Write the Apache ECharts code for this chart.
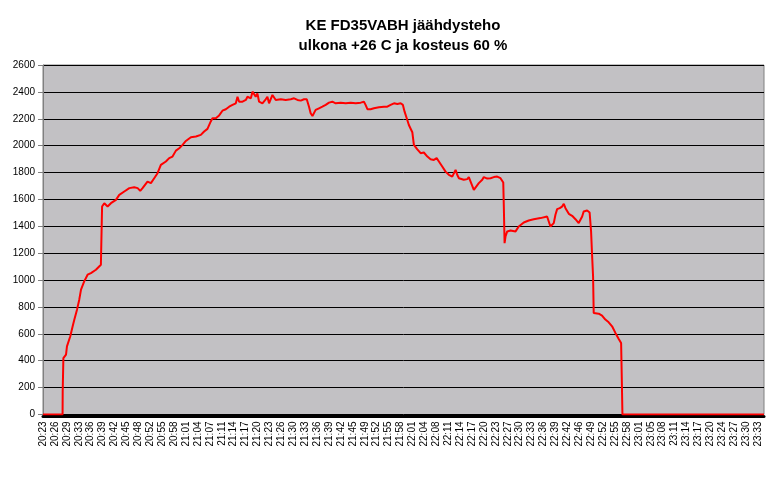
<!DOCTYPE html>
<html>
<head>
<meta charset="utf-8">
<script src="https://cdn.jsdelivr.net/npm/echarts@6/dist/echarts.min.js"></script>
<style>
html,body{margin:0;padding:0;background:#fff;}
#c{width:778px;height:478px;}
</style>
</head>
<body>
<div id="c"></div>
<script>
// Tick labels on the time axis (one every 190 s)
var tickLabels = ["20:23","20:26","20:29","20:33","20:36","20:39","20:42","20:45","20:48","20:52","20:55","20:58","21:01","21:04","21:07","21:11","21:14","21:17","21:20","21:23","21:26","21:30","21:33","21:36","21:39","21:42","21:45","21:49","21:52","21:55","21:58","22:01","22:04","22:08","22:11","22:14","22:17","22:20","22:23","22:27","22:30","22:33","22:36","22:39","22:42","22:46","22:49","22:52","22:55","22:58","23:01","23:05","23:08","23:11","23:14","23:17","23:20","23:24","23:27","23:30","23:33"];
var tickStepSec = 190;
var axisEndSec = 11495;

// Sample times (seconds after 20:23) and cooling power (W)
var timeSec = [0,312,314,323,325,367,382,435,473,500,542,578,606,657,711,764,790,844,923,941,942,977,1030,1083,1163,1216,1296,1376,1454,1509,1550,1587,1666,1720,1773,1826,1879,1959,2012,2065,2119,2172,2225,2278,2358,2438,2516,2569,2622,2675,2702,2755,2808,2861,2915,2968,3021,3074,3101,3127,3181,3234,3260,3314,3340,3365,3392,3418,3445,3498,3551,3578,3604,3658,3684,3711,3791,3870,3950,4003,4057,4110,4161,4205,4241,4267,4296,4321,4347,4400,4454,4507,4560,4613,4666,4746,4826,4906,4986,5065,5117,5143,5172,5223,5276,5356,5436,5489,5542,5596,5649,5702,5738,5765,5808,5833,5862,5888,5913,5968,6021,6072,6128,6179,6232,6276,6312,6365,6418,6471,6525,6551,6578,6604,6631,6709,6764,6789,6817,6869,6897,6948,7003,7028,7083,7135,7188,7241,7294,7338,7347,7359,7374,7401,7454,7534,7585,7665,7744,7824,7931,8037,8064,8090,8117,8143,8170,8197,8238,8276,8303,8330,8383,8436,8489,8541,8596,8620,8675,8715,8738,8755,8770,8780,8860,8913,8966,9019,9073,9126,9179,9217,9226,9238,11495];
var powerW = [0,0,170,180,420,446,507,582,656,706,780,854,929,990,1040,1052,1040,1077,1114,1127,1547,1572,1547,1572,1597,1634,1659,1684,1691,1684,1664,1684,1733,1721,1758,1795,1857,1882,1907,1919,1963,1981,2006,2035,2063,2068,2080,2105,2125,2180,2204,2204,2225,2260,2271,2290,2303,2315,2364,2327,2327,2340,2364,2352,2402,2414,2364,2389,2327,2315,2345,2364,2315,2377,2364,2340,2345,2340,2345,2352,2340,2335,2345,2345,2290,2241,2221,2229,2266,2278,2290,2303,2320,2327,2315,2320,2315,2320,2315,2320,2327,2303,2271,2271,2278,2285,2290,2290,2303,2315,2310,2315,2303,2253,2191,2154,2142,2100,2006,1973,1944,1949,1919,1899,1894,1907,1882,1845,1807,1783,1770,1783,1820,1783,1758,1746,1751,1766,1733,1671,1684,1721,1746,1766,1755,1758,1766,1770,1758,1726,1547,1275,1324,1362,1369,1362,1399,1428,1443,1453,1461,1473,1461,1399,1387,1424,1486,1528,1535,1547,1567,1535,1493,1478,1453,1424,1473,1510,1518,1503,1362,1176,1027,755,750,735,706,686,656,607,562,532,310,0,0];

var yTicks = {min: 0, max: 2600, step: 200};

var seriesData = timeSec.map(function (t, i) { return [t, powerW[i]]; });

var chart = echarts.init(document.getElementById('c'), null, {renderer: 'canvas'});
chart.setOption({
  animation: false,
  backgroundColor: '#ffffff',
  title: {
    text: 'KE FD35VABH jäähdysteho\nulkona +26 C ja kosteus 60 %',
    left: 398,
    top: 11,
    textAlign: 'center',
    textStyle: {
      fontFamily: 'Liberation Sans, Arial, sans-serif',
      fontSize: 15,
      fontWeight: 'bold',
      color: '#000',
      lineHeight: 20
    }
  },
  grid: {
    left: 43,
    right: 14,
    top: 65,
    bottom: 63.5,
    show: true,
    backgroundColor: '#C2C1C4',
    borderColor: '#808080',
    borderWidth: 1,
    containLabel: false
  },
  xAxis: {
    type: 'value',
    min: 0,
    max: axisEndSec,
    interval: tickStepSec,
    offset: 2,
    axisLine: {show: true, onZero: false, lineStyle: {color: '#000', width: 3}},
    axisTick: {show: false},
    splitLine: {show: false},
    axisLabel: {
      rotate: 90,
      margin: 5,
      fontSize: 10,
      color: '#000',
      fontFamily: 'Liberation Sans, Arial, sans-serif',
      showMinLabel: true,
      showMaxLabel: true,
      formatter: function (v) {
        var i = Math.round(v / tickStepSec);
        if (Math.abs(v - i * tickStepSec) > 1e-6) return '';
        return tickLabels[i] || '';
      }
    }
  },
  yAxis: {
    type: 'value',
    min: yTicks.min,
    max: yTicks.max,
    interval: yTicks.step,
    axisLine: {show: true, lineStyle: {color: '#808080', width: 1}},
    axisTick: {show: true, length: 5, inside: false, lineStyle: {color: '#808080'}},
    splitLine: {show: true, lineStyle: {color: '#000', width: 1}},
    axisLabel: {
      margin: 8,
      fontSize: 10,
      color: '#000',
      fontFamily: 'Liberation Sans, Arial, sans-serif',
      formatter: function (v) { return String(v); }
    }
  },
  series: [{
    type: 'line',
    data: seriesData,
    showSymbol: false,
    symbol: 'none',
    clip: true,
    lineStyle: {color: '#FF0000', width: 2},
    itemStyle: {color: '#FF0000'}
  }]
});
</script>
</body>
</html>
